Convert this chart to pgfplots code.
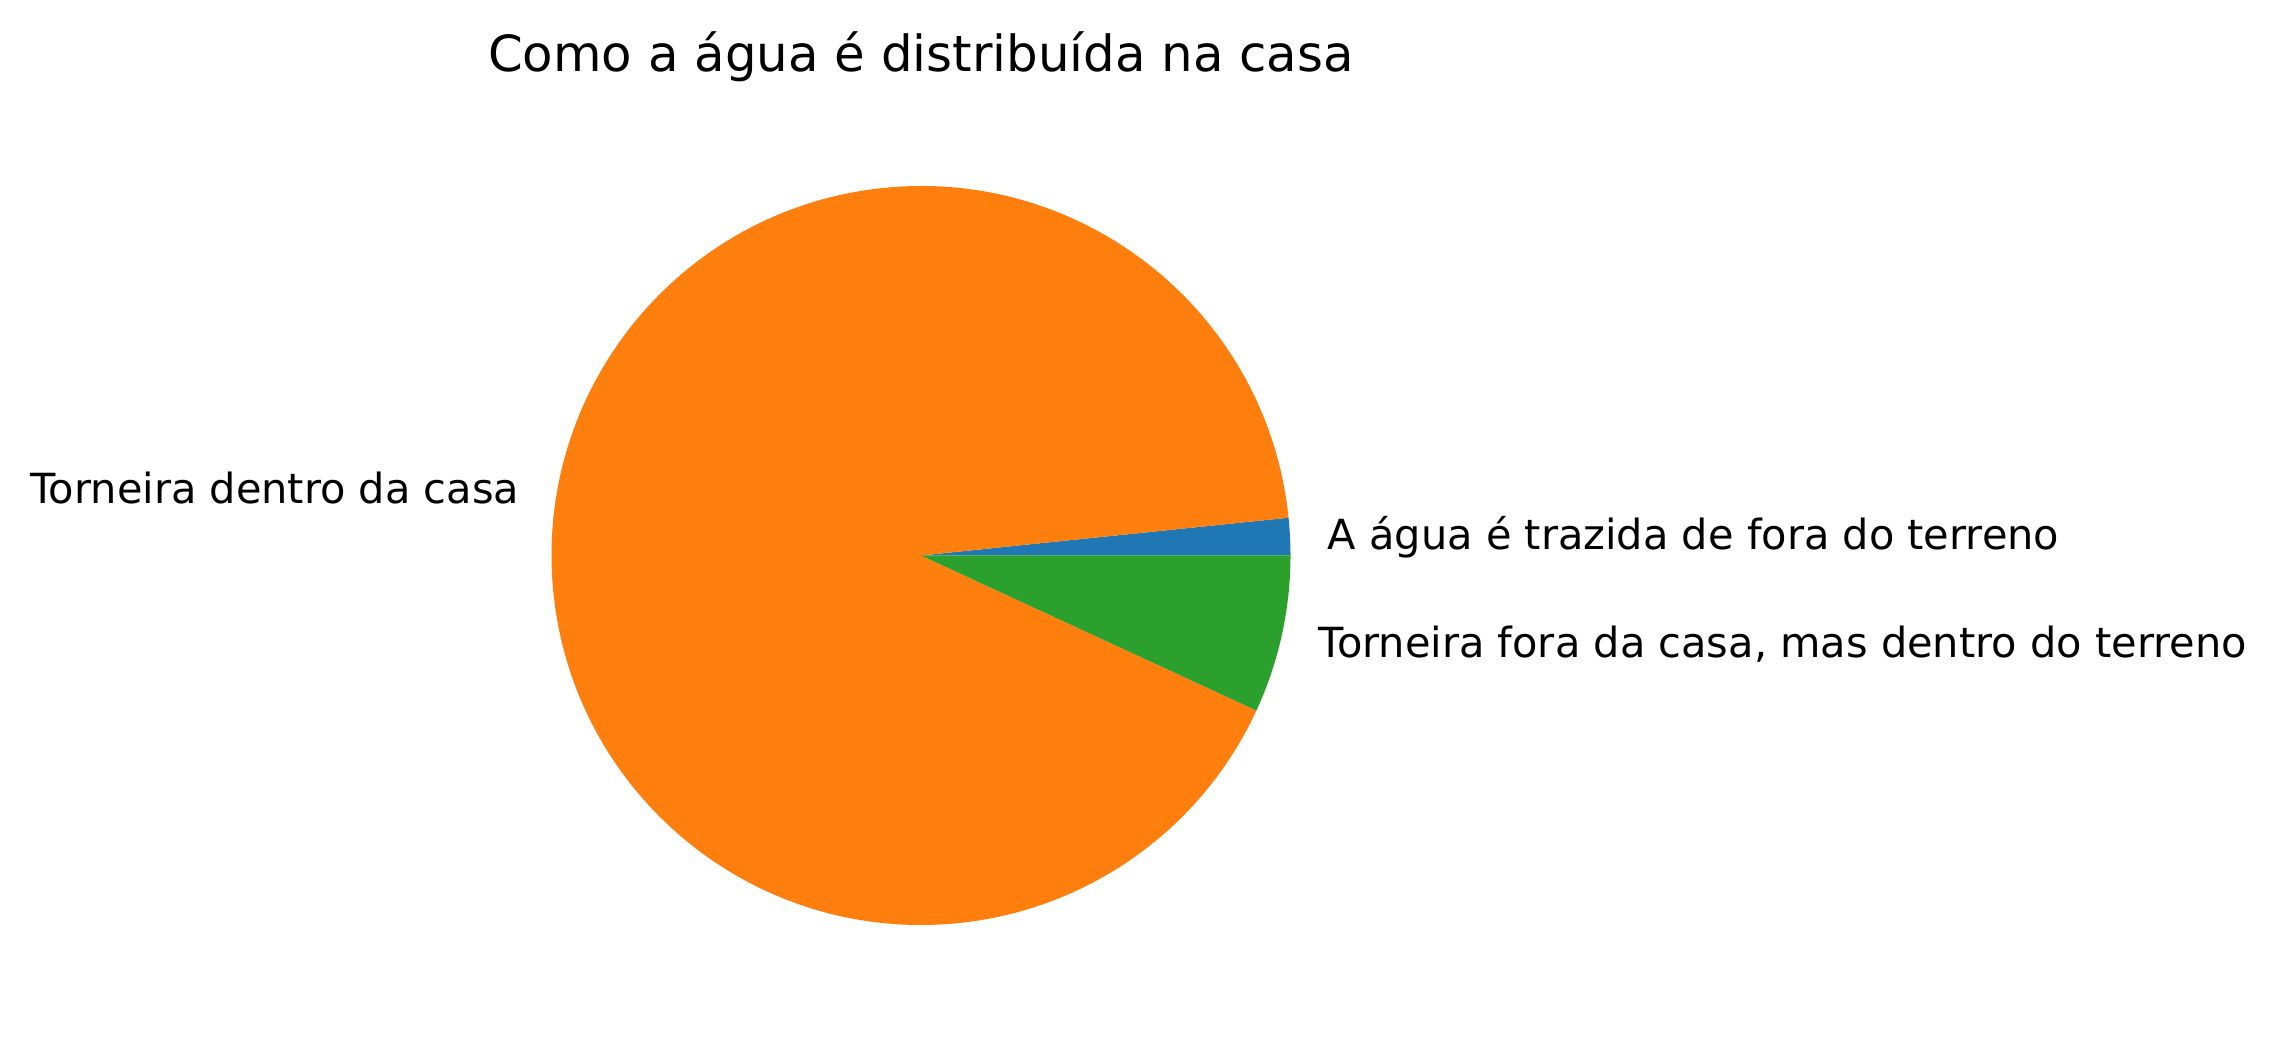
\documentclass[border=0pt]{standalone}
\usepackage{pgfplots}
\pgfplotsset{compat=1.18}
\usepackage{pgfplotstable}
\usetikzlibrary{calc}
\usepackage{fontspec}
\setmainfont{DejaVu Sans}
\definecolor{tabblue}{HTML}{1F77B4}
\definecolor{taborange}{HTML}{FF7F0E}
\definecolor{tabgreen}{HTML}{2CA02C}

\pgfplotstableread{
label value
blue 1.63
orange 91.48
green 6.89
}\piedata
\pgfplotstablegetelem{0}{value}\of\piedata \let\va\pgfplotsretval
\pgfplotstablegetelem{1}{value}\of\piedata \let\vb\pgfplotsretval
\pgfplotstablegetelem{2}{value}\of\piedata \let\vc\pgfplotsretval
\pgfmathsetmacro\tot{\va+\vb+\vc}
\pgfmathsetmacro\aB{360*(\va/\tot)}
\pgfmathsetmacro\aC{\aB+360*(\vb/\tot)}
\pgfmathsetmacro\mA{\aB/2}
\pgfmathsetmacro\mB{(\aB+\aC)/2}
\pgfmathsetmacro\mC{(\aC+360)/2}
% pixel unit: 1px = 0.24bp (300 dpi)
\def\R{88.68bp}
\def\RL{97.55bp}

\begin{document}
\begin{tikzpicture}
\begin{axis}[
  hide axis, scale only axis, clip=false,
  width=546.72bp, height=251.76bp,
  xmin=0, xmax=2278, ymin=0, ymax=1049,
]
\path (rel axis cs:0,0) rectangle (rel axis cs:1,1);
\addplot[draw=none] coordinates {(921,493.5)};
\fill[tabblue] (axis cs:921,493.5) -- ++(0:\R) arc[start angle=0, end angle=\aB, radius=\R] -- cycle;
\fill[taborange] (axis cs:921,493.5) -- ++(\aB:\R) arc[start angle=\aB, end angle=\aC, radius=\R] -- cycle;
\fill[tabgreen] (axis cs:921,493.5) -- ++(\aC:\R) arc[start angle=\aC, end angle=360, radius=\R] -- cycle;
\node[anchor=west, inner sep=0pt, yshift=-1bp, text height=0.76em, text depth=0.24em, font=\fontsize{10}{12}\selectfont] at ($(axis cs:921,493.5)+(\mA:\RL)$) {A água é trazida de fora do terreno};
\node[anchor=east, inner sep=0pt, yshift=-1bp, text height=0.76em, text depth=0.24em, font=\fontsize{10}{12}\selectfont] at ($(axis cs:921,493.5)+(\mB:\RL)$) {Torneira dentro da casa};
\node[anchor=west, inner sep=0pt, yshift=-1bp, text height=0.76em, text depth=0.24em, font=\fontsize{10}{12}\selectfont] at ($(axis cs:921,493.5)+(\mC:\RL)$) {Torneira fora da casa, mas dentro do terreno};
\node[anchor=base, inner sep=0pt, font=\fontsize{12}{14}\selectfont] at (axis cs:921,977) {Como a água é distribuída na casa};
\end{axis}
\end{tikzpicture}
\end{document}
